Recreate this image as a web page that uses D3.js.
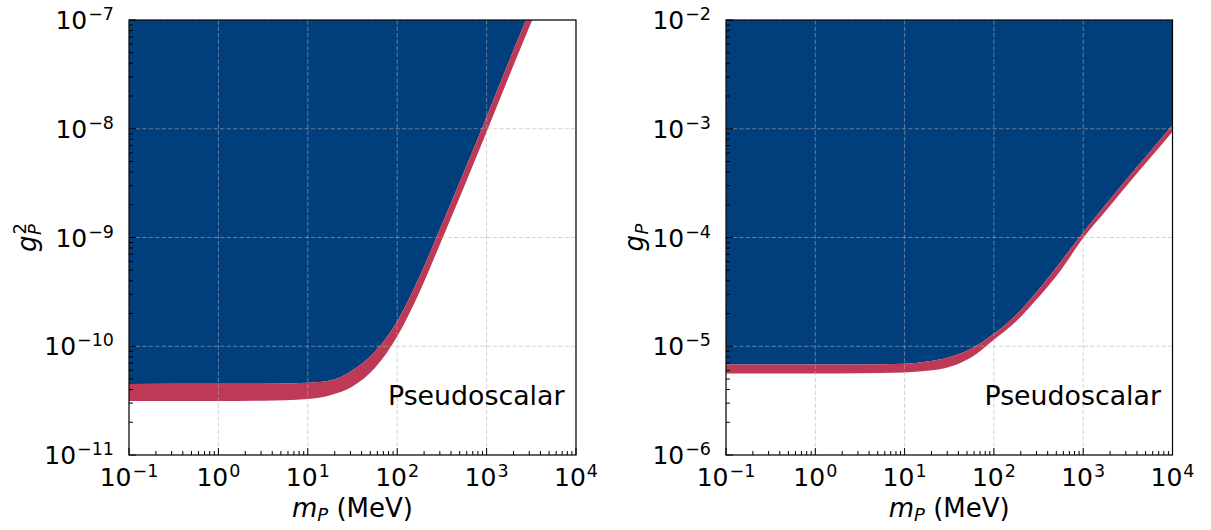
<!DOCTYPE html>
<html><head><meta charset="utf-8">
<script src="https://cdn.jsdelivr.net/npm/d3@7"></script>
<style>
html,body{margin:0;padding:0;background:#fff;}
svg{display:block;font-family:"DejaVu Sans",sans-serif;}
</style></head>
<body><svg id="chart" width="1211" height="530"></svg>
<script>
// ---- data ----
const mass = [0.1, 1, 3.16, 10, 17.8, 31.6, 56.2, 100, 178, 316, 562, 1000, 1778, 3162, 5623, 10000];
// left panel: g_P^2
const gP2Upper = [4.50e-11, 4.51e-11, 4.53e-11, 4.62e-11, 4.84e-11, 6.03e-11, 8.91e-11, 1.70e-10, 4.37e-10, 1.32e-9, 4.07e-9, 1.29e-8, 4.17e-8, 1.32e-7, 4.17e-7, 1.32e-6];
const gP2Lower = [3.13e-11, 3.14e-11, 3.16e-11, 3.27e-11, 3.55e-11, 4.27e-11, 6.31e-11, 1.23e-10, 3.16e-10, 9.55e-10, 2.95e-9, 9.33e-9, 3.02e-8, 9.55e-8, 3.02e-7, 9.55e-7];
// right panel: g_P
const gPUpper = [6.79e-6, 6.79e-6, 6.81e-6, 6.92e-6, 7.24e-6, 7.94e-6, 9.55e-6, 1.30e-5, 1.95e-5, 3.31e-5, 6.03e-5, 1.11e-4, 2.00e-4, 3.55e-4, 6.17e-4, 1.08e-3];
const gPLower = [5.62e-6, 5.62e-6, 5.65e-6, 5.75e-6, 5.96e-6, 6.46e-6, 7.94e-6, 1.15e-5, 1.70e-5, 2.82e-5, 5.01e-5, 9.89e-5, 1.74e-4, 3.09e-4, 5.37e-4, 9.40e-4];

const xTickValues = [0.1, 1, 10, 100, 1000, 10000];
const xTickExps = ["\u22121", "0", "1", "2", "3", "4"];
const yTickValuesLeft = [1e-11, 1e-10, 1e-9, 1e-8, 1e-7];
const yTickExpsLeft = ["\u221211", "\u221210", "\u22129", "\u22128", "\u22127"];
const yTickValuesRight = [1e-6, 1e-5, 1e-4, 1e-3, 1e-2];
const yTickExpsRight = ["\u22126", "\u22125", "\u22124", "\u22123", "\u22122"];
const xLabelMain = "m", xLabelSub = "P", xLabelRest = " (MeV)";
const annotation = "Pseudoscalar";

// ---- styles ----
const BLUE = "#003e7c", RED = "#be3956";
const FS = 25, SFS = 17.5, LFS = 26, LSFS = 18;
const plotTop = 20, plotBottom = 455;

const svg = d3.select("#chart");

const panels = [
  {x0: 129, x1: 576, yDomain: [1e-11, 1e-7], upper: gP2Upper, lower: gP2Lower,
   yTicks: yTickValuesLeft, yExps: yTickExpsLeft, ylabX: 36, sup: "2"},
  {x0: 726, x1: 1172.5, yDomain: [1e-6, 1e-2], upper: gPUpper, lower: gPLower,
   yTicks: yTickValuesRight, yExps: yTickExpsRight, ylabX: 643, sup: null}
];

panels.forEach((p, i) => {
  const x = d3.scaleLog().domain([0.1, 1e4]).range([p.x0, p.x1]);
  const y = d3.scaleLog().domain(p.yDomain).range([plotBottom, plotTop]);
  const g = svg.append("g");
  const clipId = "clip" + i;
  g.append("clipPath").attr("id", clipId).append("rect")
    .attr("x", p.x0).attr("y", plotTop).attr("width", p.x1 - p.x0).attr("height", plotBottom - plotTop);
  const data = mass.map((m, k) => ({m, u: p.upper[k], l: p.lower[k]}));
  const plot = g.append("g").attr("clip-path", `url(#${clipId})`);
  plot.append("path").datum(data)
    .attr("d", d3.area().curve(d3.curveMonotoneX).x(d => x(d.m)).y0(d => y(d.u)).y1(plotTop - 50))
    .attr("fill", BLUE);
  plot.append("path").datum(data)
    .attr("d", d3.area().curve(d3.curveMonotoneX).x(d => x(d.m)).y0(d => y(d.l)).y1(d => y(d.u)))
    .attr("fill", RED);
  // grid
  const grid = plot.append("g").attr("stroke", "#b0b0b0").attr("stroke-opacity", 0.55)
    .attr("stroke-width", 1).attr("stroke-dasharray", "4.5,2").attr("fill", "none");
  xTickValues.forEach(v => grid.append("line").attr("x1", x(v)).attr("x2", x(v)).attr("y1", plotTop).attr("y2", plotBottom));
  p.yTicks.forEach(v => grid.append("line").attr("x1", p.x0).attr("x2", p.x1).attr("y1", y(v)).attr("y2", y(v)));

  // ticks (inward)
  const ticks = g.append("g").attr("stroke", "#000").attr("stroke-width", 1);
  const xMinor = [], yMinor = [];
  for (let d = -1; d < 4; d++) for (let k = 2; k <= 9; k++) xMinor.push(k * Math.pow(10, d));
  const ylo = Math.round(Math.log10(p.yDomain[0])), yhi = Math.round(Math.log10(p.yDomain[1]));
  for (let d = ylo; d < yhi; d++) for (let k = 2; k <= 9; k++) yMinor.push(k * Math.pow(10, d));
  xTickValues.forEach(v => ticks.append("line").attr("x1", x(v)).attr("x2", x(v)).attr("y1", plotBottom).attr("y2", plotBottom - 7));
  xMinor.forEach(v => ticks.append("line").attr("x1", x(v)).attr("x2", x(v)).attr("y1", plotBottom).attr("y2", plotBottom - 4));
  p.yTicks.forEach(v => ticks.append("line").attr("x1", p.x0).attr("x2", p.x0 + 7).attr("y1", y(v)).attr("y2", y(v)));
  yMinor.forEach(v => ticks.append("line").attr("x1", p.x0).attr("x2", p.x0 + 4).attr("y1", y(v)).attr("y2", y(v)));

  // spines
  g.append("rect").attr("x", p.x0).attr("y", plotTop).attr("width", p.x1 - p.x0).attr("height", plotBottom - plotTop)
    .attr("fill", "none").attr("stroke", "#000").attr("stroke-width", 1.2);

  // x tick labels
  xTickValues.forEach((v, k) => {
    const t = g.append("text").attr("x", x(v)).attr("y", 486).attr("text-anchor", "middle")
      .attr("font-size", FS).attr("fill", "#000");
    t.append("tspan").text("10");
    t.append("tspan").attr("font-size", SFS).attr("dy", -9.5).attr("dx", 1).text(xTickExps[k]);
  });
  // y tick labels
  p.yTicks.forEach((v, k) => {
    const t = g.append("text").attr("x", p.x0 - 15).attr("y", y(v) + 9).attr("text-anchor", "end")
      .attr("font-size", FS).attr("fill", "#000");
    t.append("tspan").text("10");
    t.append("tspan").attr("font-size", SFS).attr("dy", -9).attr("dx", 1).text(p.yExps[k]);
  });

  // x label
  const xl = g.append("text").attr("x", (p.x0 + p.x1) / 2).attr("y", 516.5).attr("text-anchor", "middle")
    .attr("font-size", LFS).attr("fill", "#000");
  xl.append("tspan").attr("font-style", "italic").text(xLabelMain);
  xl.append("tspan").attr("font-style", "italic").attr("font-size", LSFS).attr("dy", 4).text(xLabelSub);
  xl.append("tspan").attr("dy", -4).text(xLabelRest);

  // y label (rotated)
  const yl = g.append("g").attr("transform", `translate(${p.ylabX},${(plotTop + plotBottom) / 2}) rotate(-90)`);
  const gt = yl.append("text").attr("font-size", LFS).attr("font-style", "italic").attr("fill", "#000").text("g");
  const gw = gt.node().getComputedTextLength();
  const sub = yl.append("text").attr("font-size", LSFS).attr("font-style", "italic").attr("fill", "#000")
    .attr("x", gw + 0.5).attr("y", 4.5).text("P");
  let w = gw + 0.5 + sub.node().getComputedTextLength();
  if (p.sup) {
    const sp = yl.append("text").attr("font-size", LSFS).attr("fill", "#000")
      .attr("x", gw + 1).attr("y", -10.5).text(p.sup);
    w = Math.max(w, gw + 1 + sp.node().getComputedTextLength());
  }
  yl.selectAll("text").attr("dx", -w / 2);

  // annotation
  g.append("text").attr("x", p.x1 - 11.5).attr("y", 405).attr("text-anchor", "end")
    .attr("font-size", 26.8).attr("fill", "#000").text(annotation);
});
</script></body></html>
